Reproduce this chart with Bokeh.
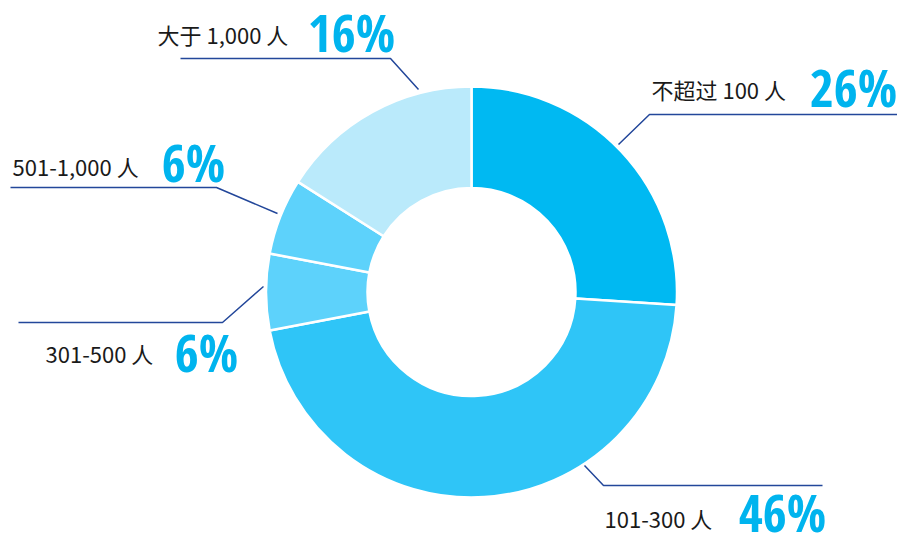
import math
from bokeh.plotting import figure
from bokeh.models import Range1d, ColumnDataSource
from bokeh.embed import file_html
from bokeh.resources import INLINE
from bokeh.core.properties import value

# ---- data ----
categories = ["不超过 100 人", "101-300 人", "301-500 人", "501-1,000 人", "大于 1,000 人"]
percents = [26, 46, 6, 6, 16]
pct_labels = ["26%", "46%", "6%", "6%", "16%"]
colors = ["#00B9F2", "#2FC5F7", "#5DD2FB", "#5DD2FB", "#BAEAFB"]

# ---- layout (page pixel coordinates; y measured from top) ----
PAGE_W, PAGE_H = 897, 534
cx, cy = 471, 291.5
r_out, r_in = 205.5, 104
leaders = [
    [(618, 144), (649, 114), (897, 114)],
    [(584, 465), (603, 485), (822, 485)],
    [(263, 286), (222, 322), (18, 322)],
    [(277, 213), (216, 187), (10, 187)],
    [(418, 89), (390, 58), (180, 58)],
]
label_pos = [(651, 88), (604, 517), (45, 352), (12, 165), (157, 33)]
pct_pos = [(853, 86), (782, 511), (206, 351), (193, 161), (351, 31)]

def Y(y):
    return PAGE_H - y

p = figure(width=PAGE_W, height=PAGE_H, output_backend="svg", toolbar_location=None,
           x_range=Range1d(0, PAGE_W), y_range=Range1d(0, PAGE_H),
           min_border=0, outline_line_color=None)
p.axis.visible = False
p.grid.visible = False
p.background_fill_color = "white"
p.border_fill_color = "white"

total = float(sum(percents))
starts, ends = [], []
acc = 0.0
for v in percents:
    s = math.pi / 2 - acc / total * 2 * math.pi
    acc += v
    e = math.pi / 2 - acc / total * 2 * math.pi
    starts.append(s)
    ends.append(e)

src = ColumnDataSource(dict(start=starts, end=ends, color=colors))
p.annular_wedge(x=cx, y=Y(cy), inner_radius=r_in, outer_radius=r_out,
                start_angle="start", end_angle="end", direction="clock",
                fill_color="color", line_color="white", line_width=2.5, source=src)

p.multi_line(xs=[[pt[0] for pt in L] for L in leaders],
             ys=[[Y(pt[1]) for pt in L] for L in leaders],
             line_color="#23479a", line_width=1.5)

p.text(x=[q[0] for q in label_pos], y=[Y(q[1]) for q in label_pos], text=categories,
       text_font=value("Noto Sans CJK SC"), text_font_size="22px",
       text_color="#1a1a1a", text_baseline="middle", text_align="left")

p.text(x=[q[0] for q in pct_pos], y=[Y(q[1]) for q in pct_pos], text=pct_labels,
       text_font=value("Open Sans Condensed"), text_font_style="bold",
       text_font_size="52px", text_color="#00B4EE",
       text_baseline="middle", text_align="center")

open("out.html", "w").write(file_html(p, INLINE))
